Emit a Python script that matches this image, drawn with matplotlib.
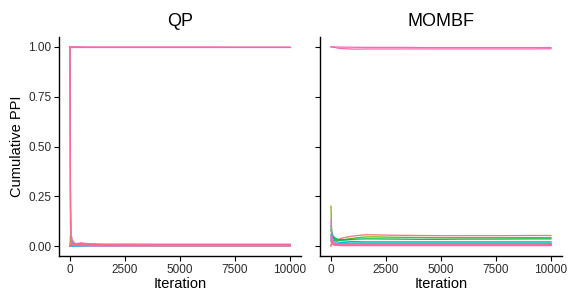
import matplotlib
matplotlib.use("Agg")
import matplotlib.pyplot as plt

plt.rcParams['font.family'] = ['Liberation Sans', 'DejaVu Sans']

# iteration checkpoints shared by all chains
iters = [0, 20, 50, 100, 200, 300, 500, 800, 1200, 1600, 2000, 3000, 4000, 5000, 6000, 7500, 9000, 10000]

# QP: cumulative PPI per chain
qp_red = [1.0, 1.0, 1.0, 1.0, 1.0, 1.0, 1.0, 0.999, 0.999, 0.999, 0.999, 0.999, 0.999, 0.999, 0.999, 0.999, 0.999, 0.999]
qp_orange = [0.0, 0.0, 0.01, 0.008, 0.006, 0.005, 0.004, 0.003, 0.003, 0.002, 0.002, 0.002, 0.002, 0.002, 0.002, 0.002, 0.002, 0.002]
qp_olive = [0.0, 0.05, 0.02, 0.012, 0.01, 0.01, 0.012, 0.01, 0.008, 0.007, 0.006, 0.006, 0.006, 0.006, 0.006, 0.006, 0.006, 0.006]
qp_green = [0.0, 0.0, 0.0, 0.01, 0.012, 0.011, 0.01, 0.009, 0.008, 0.008, 0.008, 0.008, 0.007, 0.007, 0.007, 0.007, 0.007, 0.007]
qp_teal = [0.0, 0.0, 0.0, 0.0, 0.005, 0.006, 0.005, 0.004, 0.004, 0.004, 0.003, 0.003, 0.003, 0.003, 0.003, 0.003, 0.003, 0.003]
qp_cyan = [1.0, 0.2, 0.05, 0.02, 0.01, 0.008, 0.006, 0.005, 0.004, 0.004, 0.004, 0.003, 0.003, 0.003, 0.003, 0.003, 0.003, 0.003]
qp_sky = [0.0, 0.0, 0.0, 0.0, 0.0, 0.003, 0.01, 0.008, 0.006, 0.005, 0.004, 0.004, 0.004, 0.004, 0.004, 0.004, 0.004, 0.004]
qp_blue = [0.0, 0.0, 0.0, 0.0, 0.0, 0.0, 0.0, 0.002, 0.003, 0.003, 0.003, 0.003, 0.003, 0.003, 0.003, 0.003, 0.003, 0.003]
qp_purple = [0.0, 0.0, 0.0, 0.0, 0.0, 0.0, 0.0, 0.0, 0.0, 0.0, 0.0, 0.001, 0.001, 0.001, 0.001, 0.001, 0.001, 0.001]
qp_magenta = [1.0, 1.0, 1.0, 1.0, 1.0, 1.0, 1.0, 1.0, 1.0, 1.0, 1.0, 1.0, 1.0, 1.0, 1.0, 1.0, 1.0, 1.0]
qp_red_low = [0.0, 0.02, 0.015, 0.012, 0.01, 0.01, 0.009, 0.009, 0.008, 0.008, 0.008, 0.008, 0.008, 0.008, 0.008, 0.008, 0.008, 0.008]
qp_rose = [1.0, 0.3, 0.06, 0.03, 0.015, 0.012, 0.016, 0.012, 0.01, 0.009, 0.009, 0.009, 0.009, 0.009, 0.009, 0.009, 0.009, 0.009]
qp_pink_low = [0.0, 0.0, 0.0, 0.005, 0.004, 0.003, 0.002, 0.002, 0.001, 0.001, 0.001, 0.001, 0.001, 0.001, 0.001, 0.001, 0.001, 0.001]
qp_pink_mid = [1.0, 0.1, 0.03, 0.012, 0.008, 0.007, 0.006, 0.005, 0.005, 0.005, 0.005, 0.005, 0.005, 0.005, 0.005, 0.005, 0.005, 0.005]
qp_pink = [1.0, 1.0, 1.0, 1.0, 1.0, 1.0, 0.999, 0.999, 0.999, 0.999, 0.999, 0.999, 0.999, 0.999, 0.999, 0.998, 0.998, 0.998]

# MOMBF: cumulative PPI per chain
mb_red = [0.05, 0.04, 0.03, 0.025, 0.028, 0.033, 0.04, 0.047, 0.053, 0.057, 0.056, 0.054, 0.053, 0.052, 0.052, 0.052, 0.053, 0.053]
mb_orange = [0.02, 0.02, 0.015, 0.012, 0.01, 0.009, 0.008, 0.008, 0.008, 0.008, 0.008, 0.008, 0.008, 0.008, 0.008, 0.008, 0.008, 0.008]
mb_olive = [0.0, 0.01, 0.01, 0.008, 0.006, 0.005, 0.005, 0.005, 0.005, 0.005, 0.005, 0.005, 0.005, 0.005, 0.005, 0.005, 0.005, 0.005]
mb_green = [0.2, 0.1, 0.06, 0.04, 0.03, 0.028, 0.03, 0.036, 0.042, 0.046, 0.046, 0.044, 0.043, 0.042, 0.042, 0.042, 0.042, 0.042]
mb_teal = [0.1, 0.07, 0.05, 0.04, 0.035, 0.033, 0.032, 0.033, 0.035, 0.036, 0.036, 0.035, 0.034, 0.034, 0.035, 0.035, 0.036, 0.036]
mb_cyan = [0.08, 0.075, 0.065, 0.05, 0.04, 0.032, 0.027, 0.024, 0.022, 0.021, 0.021, 0.021, 0.021, 0.021, 0.021, 0.021, 0.021, 0.021]
mb_sky = [0.06, 0.05, 0.04, 0.03, 0.025, 0.02, 0.018, 0.016, 0.015, 0.015, 0.015, 0.015, 0.015, 0.015, 0.015, 0.015, 0.015, 0.015]
mb_blue = [0.04, 0.03, 0.025, 0.02, 0.015, 0.013, 0.012, 0.011, 0.011, 0.011, 0.011, 0.011, 0.011, 0.011, 0.011, 0.011, 0.011, 0.011]
mb_purple = [0.03, 0.02, 0.015, 0.01, 0.008, 0.007, 0.007, 0.007, 0.007, 0.007, 0.007, 0.007, 0.007, 0.007, 0.007, 0.007, 0.007, 0.007]
mb_magenta = [0.13, 0.08, 0.04, 0.02, 0.012, 0.01, 0.01, 0.009, 0.009, 0.009, 0.009, 0.009, 0.009, 0.009, 0.009, 0.009, 0.009, 0.009]
mb_red_low = [0.03, 0.025, 0.02, 0.015, 0.012, 0.011, 0.011, 0.012, 0.012, 0.012, 0.012, 0.012, 0.012, 0.012, 0.012, 0.012, 0.012, 0.012]
mb_rose = [1.0, 1.0, 1.0, 0.999, 0.997, 0.994, 0.992, 0.99, 0.989, 0.99, 0.99, 0.99, 0.99, 0.99, 0.99, 0.99, 0.99, 0.991]
mb_pink_low = [0.0, 0.01, 0.01, 0.006, 0.004, 0.003, 0.002, 0.002, 0.002, 0.002, 0.002, 0.002, 0.002, 0.002, 0.002, 0.002, 0.002, 0.002]
mb_pink_mid = [0.05, 0.03, 0.02, 0.012, 0.008, 0.006, 0.006, 0.006, 0.006, 0.006, 0.006, 0.006, 0.006, 0.006, 0.006, 0.006, 0.006, 0.006]
mb_pink = [1.0, 1.0, 1.0, 1.0, 1.0, 1.0, 0.999, 0.999, 0.998, 0.998, 0.998, 0.998, 0.997, 0.997, 0.997, 0.997, 0.997, 0.997]

qp_series = [qp_red, qp_orange, qp_olive, qp_green, qp_teal, qp_cyan, qp_sky,
             qp_blue, qp_purple, qp_magenta, qp_red_low, qp_rose,
             qp_pink_low, qp_pink_mid, qp_pink]
mb_series = [mb_red, mb_orange, mb_olive, mb_green, mb_teal, mb_cyan, mb_sky,
             mb_blue, mb_purple, mb_magenta, mb_red_low, mb_rose,
             mb_pink_low, mb_pink_mid, mb_pink]

# ggplot-like hue colours, pinks drawn last (on top)
line_colors = ["#F8766D", "#DE8C00", "#B79F00", "#7CAE00", "#00BA38", "#00C08B",
               "#00BFC4", "#00B4F0", "#619CFF", "#F564E3", "#F8766D", "#FF64B0",
               "#FF64B0", "#FF6C91", "#FF64B0"]

fig = plt.figure(figsize=(5.74, 3.04), dpi=100)
ax1 = fig.add_axes([59/574, 1-256/304, 242/574, 219/304])
ax2 = fig.add_axes([320/574, 1-256/304, 242/574, 219/304])

for ax, name, series in zip([ax1, ax2], ["QP", "MOMBF"], [qp_series, mb_series]):
    for s, c in zip(series, line_colors):
        ax.plot(iters, s, color=c, lw=0.9)
    ax.set_xlim(-500, 10500)
    ax.set_ylim(-0.05, 1.05)
    ax.set_xticks([0, 2500, 5000, 7500, 10000])
    ax.set_yticks([0, 0.25, 0.5, 0.75, 1.0])
    ax.set_yticklabels(["0.00", "0.25", "0.50", "0.75", "1.00"])
    for side in ["top", "right"]:
        ax.spines[side].set_visible(False)
    for side in ["left", "bottom"]:
        ax.spines[side].set_linewidth(1.0)
    ax.tick_params(direction="out", length=3.5, width=0.8, labelsize=8.5,
                   labelcolor="#2b2b2b", pad=2)
    ax.set_title(name, fontsize=13, pad=8)
    ax.set_xlabel("Iteration", fontsize=10.5, labelpad=1)

ax1.set_ylabel("Cumulative PPI", fontsize=10.5, labelpad=3)
ax2.tick_params(labelleft=False)

fig.savefig("out.png", dpi=100)
